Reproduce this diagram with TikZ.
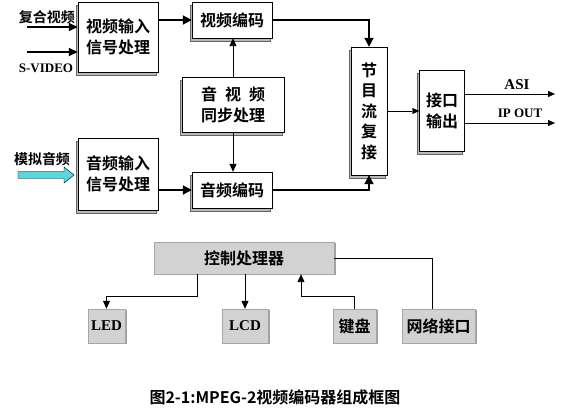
\documentclass[tikz,border=0pt]{standalone}
\usepackage{fontspec}
\setmainfont{Liberation Serif}
\newfontfamily\cjk{Noto Sans CJK SC}[BoldFont=* Bold]
\usetikzlibrary{arrows.meta,shadows}

\definecolor{incyan}{RGB}{90,215,220}

\newcommand\zh{\cjk\bfseries\fontsize{16}{21}\selectfont}
\newcommand\zhsm{\cjk\bfseries\fontsize{14}{16}\selectfont}
\newcommand\lat{\bfseries\fontsize{13}{15}\selectfont}

\begin{document}
\begin{tikzpicture}[
    x=1pt, y=-1pt,
    font=\zh,
    blk/.style={draw, thin, fill=white, align=center, inner sep=1pt,
                general shadow={shadow xshift=-2pt, shadow yshift=-3pt,
                                fill=gray!55, draw=black!60}},
    btn/.style={draw=gray!70, fill=gray!35, align=center, inner sep=1pt,
                minimum height=34pt,
                general shadow={shadow xshift=1.5pt, shadow yshift=-1.5pt,
                                fill=gray!75}},
    bigarr/.style={line width=1.8pt, -{Triangle[length=9pt,width=9pt]}},
    inarr/.style={line width=1.6pt, -{Triangle[length=9pt,width=8pt]}},
    ctlarr/.style={line width=0.9pt, -{Triangle[length=8pt,width=7pt]}},
    smallarr/.style={thin, -{Triangle[length=7pt,width=6pt]}}
]
    \useasboundingbox (0,0) rectangle (571,414);

    % video / audio chain
    \node[blk, minimum width=80pt, minimum height=70pt] (vin) at (118,37)
        {视频输入\\信号处理};
    \node[blk, minimum width=80pt, minimum height=36pt] (venc) at (232,20)
        {视频编码};
    \node[blk, minimum width=102pt, minimum height=55pt] (sync) at (233,105)
        {音\hspace{0.5em}视\hspace{0.5em}频\\同步处理};
    \node[blk, minimum width=80pt, minimum height=72pt] (ain) at (118,174)
        {音频输入\\信号处理};
    \node[blk, minimum width=80pt, minimum height=36pt] (aenc) at (232,190)
        {音频编码};
    \node[blk, minimum width=36pt, minimum height=128pt,
          font=\cjk\bfseries\fontsize{16}{20.5}\selectfont] (mux) at (369,111)
        {节\\目\\流\\复\\接};
    \node[blk, minimum width=45pt, minimum height=81pt] (iface) at (442,111)
        {接口\\输出};

    % inputs
    \node[font=\zhsm] (cvbs) at (47,17) {复合视频};
    \coordinate (cvbsin) at (27,27);
    \draw[inarr] (cvbsin) -- (cvbsin -| vin.west);
    \coordinate (svin) at (27,52);
    \draw[inarr] (svin) -- (svin -| vin.west);
    \node[font=\lat] (svlabel) at (46,68) {S-VIDEO};
    \node[font=\zhsm] (alabel) at (42,159) {模拟音频};
    \draw[fill=incyan] (18,171.5) -- (64,171.5) -- (64,167) -- (74,175)
        -- (64,183) -- (64,178.5) -- (18,178.5) -- cycle;

    \draw[bigarr] (vin.east |- venc.west) -- (venc.west);
    \draw[bigarr] (ain.east |- aenc.west) -- (aenc.west);
    \draw[ctlarr] (sync.north) -- (sync.north |- venc.south);
    \draw[ctlarr] (sync.south) -- (sync.south |- aenc.north);
    \draw[bigarr] (venc.east) -| (mux.north);
    \draw[bigarr] (aenc.east) -| (mux.south);
    \draw[smallarr] (mux.east) -- (iface.west);

    % outputs
    \coordinate (asi) at (555,94);
    \coordinate (ipout) at (555,123);
    \draw[smallarr] (iface.east |- asi) -- (asi);
    \draw[smallarr] (iface.east |- ipout) -- (ipout);
    \node[font=\bfseries\fontsize{15}{17}\selectfont] (asilabel) at (517,85) {ASI};
    \node[font=\lat] (iplabel) at (520,113) {IP OUT};

    % control part
    \node[btn, minimum width=180pt, minimum height=32pt] (ctrl) at (244,258)
        {控制处理器};
    \node[btn, minimum width=37pt, font=\bfseries\fontsize{15}{17}\selectfont]
        (led) at (106.5,326) {LED};
    \node[btn, minimum width=46pt, font=\bfseries\fontsize{15}{17}\selectfont]
        (lcd) at (245,326) {LCD};
    \node[btn, minimum width=43pt] (kbd) at (354.5,326) {键盘};
    \node[btn, minimum width=73pt] (net) at (438.5,326) {网络接口};

    \coordinate (ledbend) at (197,296);
    \draw[ctlarr] (ledbend |- ctrl.south) -- (ledbend) -| (led.north);
    \draw[ctlarr] (ctrl.south -| lcd.north) -- (lcd.north);
    \coordinate (kbdbend) at (301,296);
    \draw[ctlarr] (kbd.north) |- (kbdbend) -- (kbdbend |- ctrl.south);
    \draw[thin] (ctrl.east) -| ([xshift=-6pt]net.north);

    \node[font=\cjk\bfseries\fontsize{16}{18}\selectfont] (caption) at (275,397)
        {图2-1:MPEG-2视频编码器组成框图};

\end{tikzpicture}
\end{document}
